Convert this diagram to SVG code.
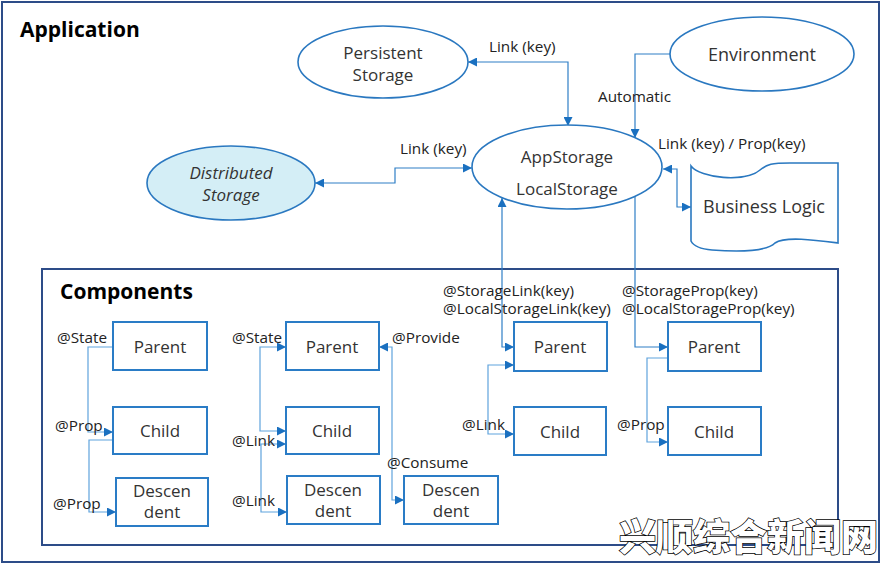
<svg xmlns="http://www.w3.org/2000/svg" width="883" height="566" viewBox="0 0 883 566">
<style>
text{font-family:"Open Sans","Noto Sans","Liberation Sans",sans-serif;fill:#222}
.title{font-weight:bold;font-size:21px;fill:#000}
.node{font-size:17px;text-anchor:middle;fill:#333}
.lbl{font-size:15.3px;fill:#222}
.ell{fill:#fff;stroke:#2a78c0;stroke-width:1.6}
.box{fill:#fff;stroke:#2a7cc6;stroke-width:2}
.c{fill:none;stroke:#2f7fc6;stroke-width:1.2;marker-end:url(#ah)}
.both{marker-start:url(#ah)}
.cl{fill:none;stroke:#5fa3dd;stroke-width:1.2;marker-end:url(#ah)}
.wm{font-family:"Noto Sans CJK SC",sans-serif;font-weight:900;font-size:37px;fill:#fff;stroke:#000;stroke-width:1.5;paint-order:stroke}
</style>
<defs>
<marker id="ah" viewBox="0 0 10 10" refX="10" refY="5" markerWidth="9" markerHeight="9" markerUnits="userSpaceOnUse" orient="auto-start-reverse">
<path d="M0,0 L10,5 L0,10 z" fill="#1a70c0"/>
</marker>
</defs>
<rect x="0" y="0" width="883" height="566" fill="#fff"/>
<rect x="2" y="2" width="877" height="560" fill="none" stroke="#2d4c88" stroke-width="2"/>
<rect x="42" y="269" width="796" height="276" fill="none" stroke="#2d4c88" stroke-width="2"/>
<text class="title" x="20" y="37">Application</text>
<text class="title" x="60" y="299">Components</text>

<g id="connectors">
<path class="c both" d="M468,62 H568 V126"/>
<path class="c" d="M671,54 H635 V138"/>
<path class="c both" d="M315,183 H395 V168 H472"/>
<path class="c both" d="M663,169 H677 V207 H691"/>
<path class="c both" d="M502,198 V347 H514"/>
<path class="c" d="M635,196 V347 H668"/>
<path class="cl" d="M113,347 H88 V432 H113"/>
<path class="cl" d="M113,440 H89 V512 H116"/>
<path class="cl both" d="M286,347 H260 V431 H286"/>
<path class="cl both" d="M286,444 H261 V512 H287"/>
<path class="cl both" d="M379,347 H392 V500 H404"/>
<path class="cl both" d="M514,434 H488 V365 H514"/>
<path class="cl" d="M668,358 H647 V442 H668"/>
<text class="lbl" x="489" y="52">Link (key)</text>
<text class="lbl" x="598" y="102">Automatic</text>
<text class="lbl" x="400" y="154">Link (key)</text>
<text class="lbl" x="658" y="149">Link (key) / Prop(key)</text>
<text class="lbl" x="443" y="296">@StorageLink(key)</text>
<text class="lbl" x="443" y="314">@LocalStorageLink(key)</text>
<text class="lbl" x="622" y="296">@StorageProp(key)</text>
<text class="lbl" x="622" y="314">@LocalStorageProp(key)</text>
<text class="lbl" x="57" y="343">@State</text>
<text class="lbl" x="55" y="431">@Prop</text>
<text class="lbl" x="53" y="509">@Prop</text>
<text class="lbl" x="232" y="343">@State</text>
<text class="lbl" x="232" y="446">@Link</text>
<text class="lbl" x="232" y="506">@Link</text>
<text class="lbl" x="392" y="343">@Provide</text>
<text class="lbl" x="387" y="468">@Consume</text>
<text class="lbl" x="462" y="430">@Link</text>
<text class="lbl" x="617" y="430">@Prop</text>
</g>

<g id="persistent">
<ellipse class="ell" cx="383" cy="62" rx="85" ry="36"/>
<text class="node" x="383" y="59">Persistent</text>
<text class="node" x="383" y="81">Storage</text>
</g>
<g id="environment">
<ellipse class="ell" cx="762" cy="54" rx="92" ry="37"/>
<text class="node" x="762" y="61" style="font-size:18px">Environment</text>
</g>
<g id="appstorage">
<ellipse class="ell" cx="567" cy="167" rx="95" ry="42"/>
<text class="node" x="567" y="163">AppStorage</text>
<text class="node" x="567" y="195">LocalStorage</text>
</g>
<g id="distributed">
<ellipse class="ell" cx="231" cy="183" rx="84" ry="37" style="fill:#d4eef6"/>
<text class="node" x="231" y="179" font-style="italic">Distributed</text>
<text class="node" x="231" y="201" font-style="italic">Storage</text>
</g>
<g id="business">
<path class="ell" d="M691,166 C700,178 745,183 760,170 C767,164 772,163 790,163 L838,163 L838,243 C815,240 785,236 775,243 C766,252 740,252 712,250 C700,249 693,245 691,241 Z"/>
<text class="node" x="764" y="213" style="font-size:18px">Business Logic</text>
</g>

<g id="parent1"><rect class="box" x="113" y="322" width="94" height="48"/><text class="node" x="160" y="353">Parent</text></g>
<g id="child1"><rect class="box" x="113" y="407" width="94" height="47"/><text class="node" x="160" y="437">Child</text></g>
<g id="desc1"><rect class="box" x="116" y="478" width="92" height="48"/><text class="node" x="162" y="497">Descen</text><text class="node" x="162" y="518">dent</text></g>

<g id="parent2"><rect class="box" x="286" y="322" width="93" height="48"/><text class="node" x="332" y="353">Parent</text></g>
<g id="child2"><rect class="box" x="286" y="407" width="93" height="47"/><text class="node" x="332" y="437">Child</text></g>
<g id="desc2"><rect class="box" x="287" y="476" width="93" height="48"/><text class="node" x="333" y="496">Descen</text><text class="node" x="333" y="517">dent</text></g>
<g id="desc3"><rect class="box" x="404" y="476" width="94" height="48"/><text class="node" x="451" y="496">Descen</text><text class="node" x="451" y="517">dent</text></g>

<g id="parent3"><rect class="box" x="514" y="322" width="93" height="49"/><text class="node" x="560" y="353">Parent</text></g>
<g id="child3"><rect class="box" x="514" y="407" width="92" height="48"/><text class="node" x="560" y="438">Child</text></g>

<g id="parent4"><rect class="box" x="668" y="322" width="93" height="49"/><text class="node" x="714" y="353">Parent</text></g>
<g id="child4"><rect class="box" x="668" y="407" width="93" height="48"/><text class="node" x="714" y="438">Child</text></g>

<text class="wm" x="619" y="551">兴顺综合新闻网</text>
</svg>
